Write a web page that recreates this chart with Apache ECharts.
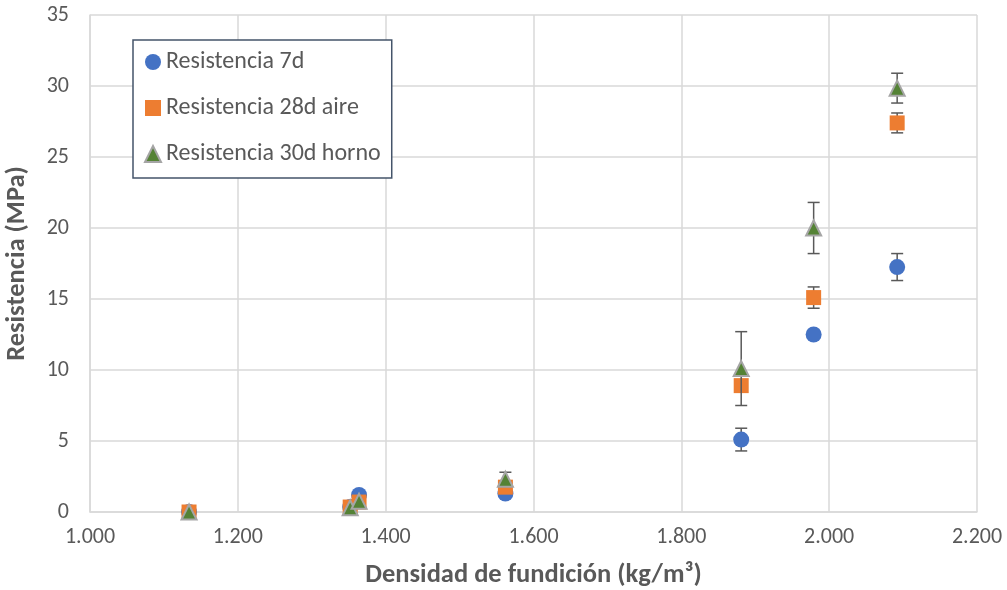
<!DOCTYPE html>
<html>
<head>
<meta charset="utf-8">
<script src="https://cdn.jsdelivr.net/npm/echarts@6/dist/echarts.min.js"></script>
<style>
  html, body { margin: 0; padding: 0; background: #fff; }
  #chart { width: 1007px; height: 590px; }
</style>
</head>
<body>
<div id="chart"></div>
<script>
// densidad de fundición (kg/m3)
var density = [1134, 1352, 1364, 1562, 1881, 1979, 2092];

var res7 = [0, 0.35, 1.2, 1.3, 5.1, 12.5, 17.25];
var res7Err = [0, 0, 0, 0, 0.8, 0.25, 0.95];

var res28 = [0, 0.35, 0.7, 1.75, 8.9, 15.1, 27.4];
var res28Err = [0, 0, 0, 0, 0.3, 0.75, 0.7];

var res30 = [0, 0.3, 0.75, 2.3, 10.1, 20.0, 29.85];
var res30Err = [0, 0, 0, 0.5, 2.6, 1.8, 1.05];

var seriesNames = ["Resistencia 7d", "Resistencia 28d aire", "Resistencia 30d horno"];

var chart = echarts.init(document.getElementById("chart"));

function points(vals) {
  return density.map(function (d, i) { return [d, vals[i]]; });
}

function errData(vals, errs) {
  var out = [];
  density.forEach(function (d, i) {
    if (errs[i] > 0) out.push([d, vals[i] - errs[i], vals[i] + errs[i]]);
  });
  return out;
}

function renderErr(params, api) {
  var x = api.value(0);
  var lo = api.coord([x, api.value(1)]);
  var hi = api.coord([x, api.value(2)]);
  var w = 6;
  var style = { stroke: "#595959", lineWidth: 1.5, fill: null };
  return {
    type: "group",
    children: [
      { type: "line", shape: { x1: lo[0], y1: lo[1], x2: hi[0], y2: hi[1] }, style: style },
      { type: "line", shape: { x1: lo[0] - w, y1: lo[1], x2: lo[0] + w, y2: lo[1] }, style: style },
      { type: "line", shape: { x1: hi[0] - w, y1: hi[1], x2: hi[0] + w, y2: hi[1] }, style: style }
    ]
  };
}

function errSeries(vals, errs, z) {
  return {
    type: "custom",
    renderItem: renderErr,
    data: errData(vals, errs),
    encode: { x: 0, y: [1, 2] },
    z: z,
    silent: true
  };
}

var option = {
  animation: false,
  textStyle: { fontFamily: "Carlito, 'Liberation Sans', sans-serif" },
  grid: { left: 90, right: 30, top: 15, bottom: 78, outerBoundsMode: "none", containLabel: false },
  legend: {
    orient: "vertical",
    left: 133,
    top: 40,
    padding: [10, 11, 12, 11],
    itemGap: 22,
    itemWidth: 16,
    itemHeight: 16,
    borderColor: "#44546A",
    borderWidth: 1.5,
    backgroundColor: "#fff",
    textStyle: { fontSize: 24, color: "#595959" },
    data: [
      { name: seriesNames[0], icon: "circle" },
      { name: seriesNames[1], icon: "rect" },
      { name: seriesNames[2], icon: "triangle" }
    ]
  },
  xAxis: {
    type: "value",
    min: 1000,
    max: 2200,
    interval: 200,
    name: "Densidad de fundición (kg/m³)",
    nameLocation: "middle",
    nameGap: 50,
    nameTextStyle: { fontSize: 26.5, fontWeight: "bold", color: "#595959" },
    axisLine: { show: true, lineStyle: { color: "#D9D9D9", width: 1.5 } },
    axisTick: { show: false },
    axisLabel: {
      fontSize: 22,
      color: "#595959",
      margin: 14,
      formatter: function (v) { return (v / 1000).toFixed(3); }
    },
    splitLine: { show: true, lineStyle: { color: "#D9D9D9", width: 1.5 } }
  },
  yAxis: {
    type: "value",
    min: 0,
    max: 35,
    interval: 5,
    name: "Resistencia (MPa)",
    nameLocation: "middle",
    nameGap: 59,
    nameTextStyle: { fontSize: 26.5, fontWeight: "bold", color: "#595959" },
    axisLine: { show: true, lineStyle: { color: "#D9D9D9", width: 1.5 } },
    axisTick: { show: false },
    axisLabel: { fontSize: 22, color: "#595959", margin: 21 },
    splitLine: { show: true, lineStyle: { color: "#D9D9D9", width: 1.5 } }
  },
  series: [
    errSeries(res7, res7Err, 1),
    {
      name: seriesNames[0],
      type: "scatter",
      symbol: "circle",
      symbolSize: 16,
      itemStyle: { color: "#4472C4", opacity: 1 },
      data: points(res7),
      z: 2
    },
    errSeries(res28, res28Err, 3),
    {
      name: seriesNames[1],
      type: "scatter",
      symbol: "rect",
      symbolSize: 15,
      itemStyle: { color: "#ED7D31", opacity: 1 },
      data: points(res28),
      z: 4
    },
    errSeries(res30, res30Err, 5),
    {
      name: seriesNames[2],
      type: "scatter",
      symbol: "triangle",
      symbolSize: 15,
      itemStyle: { color: "#548235", borderColor: "#A5A5A5", borderWidth: 2, opacity: 1 },
      data: points(res30),
      z: 6
    }
  ]
};

chart.setOption(option);
</script>
</body>
</html>
